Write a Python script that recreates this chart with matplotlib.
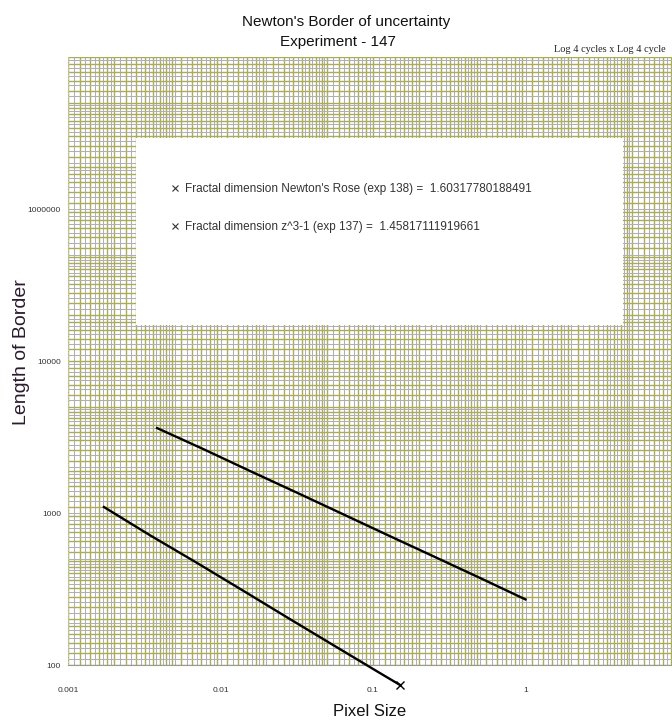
import numpy as np
import matplotlib
matplotlib.use("Agg")
import matplotlib.pyplot as plt
import matplotlib.patches as patches

# pixel size vs. length of border
rose_x = [0.00172, 0.0034, 0.0069, 0.0138, 0.0275, 0.055, 0.11, 0.15]
rose_y = [1095, 720, 474, 312, 205, 135, 89, 74]
z3_x = [0.00384, 0.0078, 0.0156, 0.03125, 0.0625, 0.125, 0.25, 0.5, 1.0]
z3_y = [3620, 2620, 1890, 1370, 990, 715, 518, 375, 270]

rose_label = "Fractal dimension Newton's Rose (exp 138) =  1.60317780188491"
z3_label = "Fractal dimension z^3-1 (exp 137) =  1.45817111919661"

xticks = [0.001, 0.01, 0.1, 1]
xticklabels = ["0.001", "0.01", "0.1", "1"]
yticks = [100, 1000, 10000, 100000]
yticklabels = ["100", "1000", "10000", "1000000"]

plt.rcParams["font.family"] = ["Liberation Sans", "DejaVu Sans"]

fig = plt.figure(figsize=(6.72, 7.21), dpi=100)
W, H = 672, 721
ax = fig.add_axes([68 / W, (H - 665) / H, 610 / W, 608 / H])
ax.set_xscale("log")
ax.set_yscale("log")
ax.set_xlim(0.001, 10)
ax.set_ylim(100, 1e6)


# log graph paper, 4 cycles each way
def paper(lo, hi):
    vals = []
    for e in range(lo, hi):
        b = 10.0 ** e
        sub = np.concatenate([np.arange(1, 2, 0.1), np.arange(2, 5, 0.2),
                              np.arange(5, 10, 0.5)])
        vals.extend(sub * b)
    vals.append(10.0 ** hi)
    return np.array(vals)


olive = "#acac58"
grey = "#b0b0b4"
gx = paper(-3, 1)
gy = paper(2, 6)
for i, v in enumerate(gx):
    if i % 2 == 0:
        ax.axvline(v, color=olive, lw=1.0, zorder=1)
    else:
        ax.axvline(v, color=grey, lw=0.75, zorder=1)
for i, v in enumerate(gy):
    if i % 2 == 0:
        ax.axhline(v, color=olive, lw=1.0, zorder=1)
    else:
        ax.axhline(v, color=grey, lw=0.75, zorder=1)

# white box over the paper for the legend
ax.add_patch(patches.Rectangle((0.1115, 0.559), 0.7985, 0.308,
                               transform=ax.transAxes, facecolor="white",
                               edgecolor="none", zorder=2))

ax.plot(rose_x, rose_y, color="black", lw=1.7, marker="x", ms=6, mew=1,
        markevery=[len(rose_x) - 1], clip_on=False, zorder=4)
ax.plot(z3_x, z3_y, color="black", lw=1.7, zorder=4)

h1 = plt.Line2D([], [], ls="none", marker="x", ms=5, mew=0.8, color="#333333")
h2 = plt.Line2D([], [], ls="none", marker="x", ms=5, mew=0.8, color="#333333")
leg = ax.legend([h1, h2], [rose_label, z3_label], loc="upper left",
                bbox_to_anchor=(0.168, 0.793), frameon=False, fontsize=8.5,
                handlelength=0.8, handletextpad=0.4, labelspacing=2.2,
                borderpad=0, borderaxespad=0)
leg.set_zorder(5)
for t in leg.get_texts():
    t.set_color("#333333")

ax.set_xticks(xticks)
ax.set_xticklabels(xticklabels)
ax.set_yticks(yticks)
ax.set_yticklabels(yticklabels)
ax.minorticks_off()
ax.tick_params(length=0, labelsize=6, colors="#333333")
ax.tick_params(axis="x", pad=16)
ax.tick_params(axis="y", pad=5)

for s in ["top", "right"]:
    ax.spines[s].set_visible(False)
ax.spines["bottom"].set_color("#999999")
ax.spines["left"].set_color("#c8c8a0")
ax.spines["left"].set_linestyle(":")

fig.text(346 / W, 1 - 22 / H, "Newton's Border of uncertainty", ha="center",
         va="center", fontsize=11, color="#111111")
fig.text(338 / W, 1 - 42 / H, "Experiment - 147", ha="center",
         va="center", fontsize=11, color="#111111")
fig.text(554 / W, 1 - 49 / H, "Log 4 cycles x Log 4 cycle", ha="left",
         va="center", fontsize=7.4, family="Liberation Serif", color="#222222")
fig.text(370 / W, 1 - 712 / H, "Pixel Size", ha="center", va="center",
         fontsize=12, color="#111111")
fig.text(22 / W, 1 - 352 / H, "Length of Border", ha="center", va="center",
         rotation=90, fontsize=14, color="#2b1b2e")

fig.savefig("out.png", dpi=100)
